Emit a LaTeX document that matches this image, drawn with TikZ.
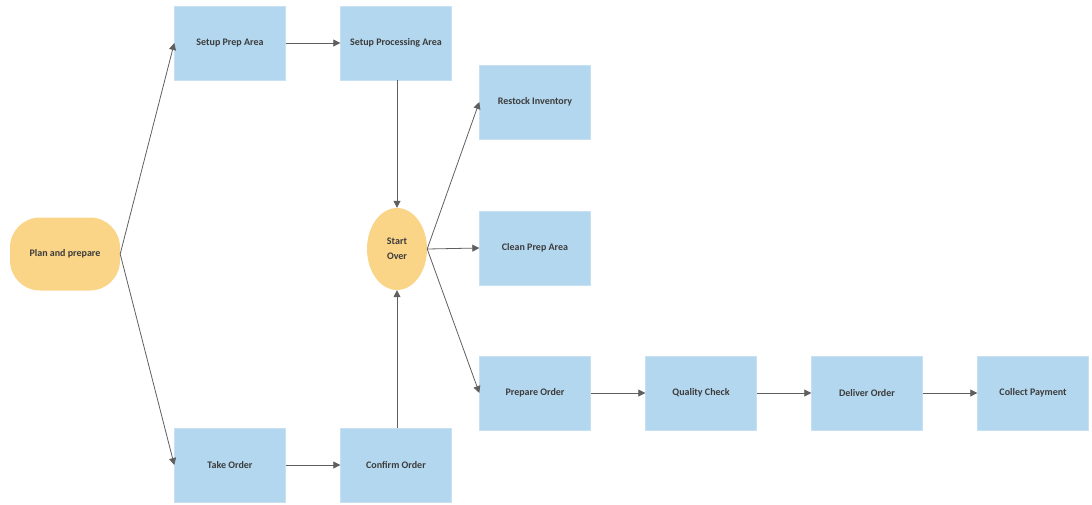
\documentclass[tikz,border=0pt]{standalone}
\usepackage{fontspec}
\setmainfont{Carlito}
\usepackage{tikz}
\usetikzlibrary{positioning, calc, shapes.geometric, arrows.meta}

\definecolor{boxblue}{RGB}{179,215,238}
\definecolor{boxedge}{RGB}{200,225,242}
\definecolor{startorange}{RGB}{250,212,135}
\definecolor{linegray}{RGB}{95,95,95}
\definecolor{textgray}{RGB}{60,60,60}

\begin{document}
\begin{tikzpicture}[node distance=166pt, auto, x=1pt, y=-1pt]
        % Define block styles
        \tikzstyle{block} = [rectangle, draw=boxedge, fill=boxblue, text=textgray, font=\fontsize{10}{12}\selectfont\bfseries, minimum width=111pt, minimum height=74pt, text centered]
        \tikzstyle{pill} = [rectangle, fill=startorange, text=textgray, font=\fontsize{10}{12}\selectfont\bfseries, rounded corners=30pt, minimum width=110pt, minimum height=73pt]
        \tikzstyle{flow} = [draw=linegray, line width=0.8pt, -{Triangle[length=7pt, width=7pt]}]

        \useasboundingbox (0,0) rectangle (1092,504);

        % Place nodes
        \node [pill] (plan) at (65,254) {Plan and prepare};
        \node [block] (prep_area) at (230,43) {Setup Prep Area};
        \node [block, right of=prep_area] (proc_area) {Setup Processing Area};
        \node [block] (take) at (230,465) {Take Order};
        \node [block, right of=take] (confirm) {Confirm Order};
        \node [ellipse, fill=startorange, text=textgray, font=\fontsize{10}{15}\selectfont\bfseries, minimum width=60pt, minimum height=82pt, inner sep=0pt, align=center] (start) at (397,249) {Start\\Over};
        \node [block] (restock) at (535,102) {Restock Inventory};
        \node [block] (clean) at (535,248) {Clean Prep Area};
        \node [block] (prepare) at (535,393) {Prepare Order};
        \node [block, right of=prepare] (quality) {Quality Check};
        \node [block, right of=quality] (deliver) {Deliver Order};
        \node [block, right of=deliver] (payment) {Collect Payment};

        % Draw connections as arrows
        \draw [flow] (plan.east) -- (prep_area.west);
        \draw [flow] (plan.east) -- (take.west);
        \draw [flow] (prep_area) -- (proc_area);
        \draw [flow] (take) -- (confirm);
        \draw [flow] (proc_area.south -| start) -- (start.north);
        \draw [flow] (confirm.north -| start) -- (start.south);
        \draw [flow] (start.east) -- (restock.west);
        \draw [flow] (start.east) -- (clean.west);
        \draw [flow] (start.east) -- (prepare.west);
        \draw [flow] (prepare) -- (quality);
        \draw [flow] (quality) -- (deliver);
        \draw [flow] (deliver) -- (payment);

    \end{tikzpicture}
\end{document}
